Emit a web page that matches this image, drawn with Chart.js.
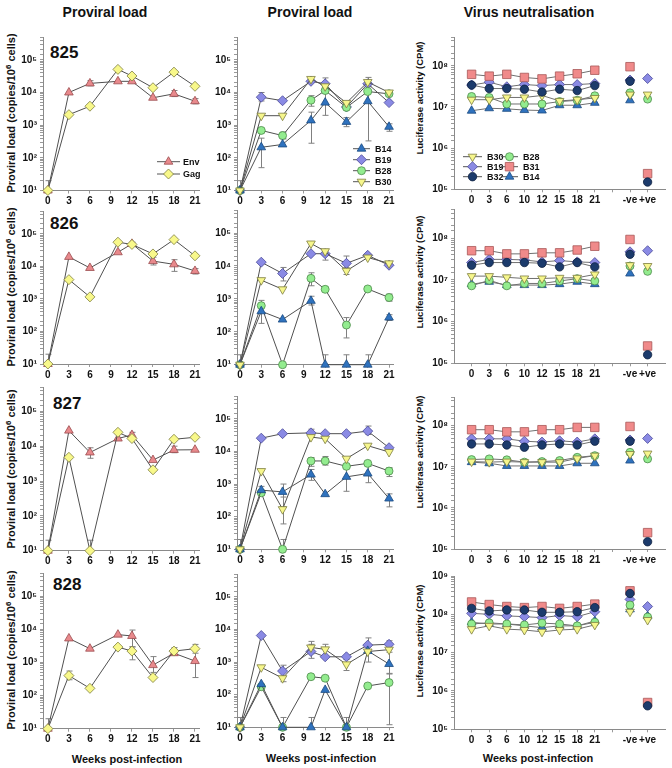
<!DOCTYPE html>
<html>
<head>
<meta charset="utf-8">
<script src="https://cdn.jsdelivr.net/npm/chart.js@4.4.1/dist/chart.umd.min.js"></script>
<style>
  html, body { margin: 0; padding: 0; background: #fff; }
  body { width: 672px; height: 768px; position: relative; overflow: hidden;
         font-family: 'Liberation Sans', Arial, sans-serif; color: #111; }
  canvas { position: absolute; }
  .t { position: absolute; font-weight: bold; white-space: nowrap; line-height: 1; }
  .head { font-size: 14px; transform: translate(-50%, -50%); }
  .num { font-size: 17px; transform: translateY(-50%); }
  .yt1 { font-size: 11px; transform: translate(-50%, -50%) rotate(-90deg); }
  .yt3 { font-size: 9.5px; transform: translate(-50%, -50%) rotate(-90deg); }
  .xt { font-size: 11px; transform: translate(-50%, -50%); }
  sup { font-size: 0.72em; vertical-align: 0.45em; line-height: 0; }
</style>
</head>
<body>
<div class="t head" style="left:105px;top:12px">Proviral load</div>
<div class="t head" style="left:310px;top:12px">Proviral load</div>
<div class="t head" style="left:529px;top:12px">Virus neutralisation</div>

<div class="t num" style="left:50px;top:52px">825</div>
<div class="t num" style="left:50px;top:223px">826</div>
<div class="t num" style="left:53px;top:403px">827</div>
<div class="t num" style="left:53px;top:584px">828</div>

<div class="t yt1" style="left:11px;top:113px">Proviral load (copies/10<sup>6</sup> cells)</div>
<div class="t yt1" style="left:11px;top:287px">Proviral load (copies/10<sup>6</sup> cells)</div>
<div class="t yt1" style="left:11px;top:469px">Proviral load (copies/10<sup>6</sup> cells)</div>
<div class="t yt1" style="left:11px;top:650px">Proviral load (copies/10<sup>6</sup> cells)</div>

<div class="t yt3" style="left:420px;top:98px">Luciferase activity (CPM)</div>
<div class="t yt3" style="left:420px;top:272px">Luciferase activity (CPM)</div>
<div class="t yt3" style="left:420px;top:452px">Luciferase activity (CPM)</div>
<div class="t yt3" style="left:420px;top:641px">Luciferase activity (CPM)</div>

<div class="t xt" style="left:127px;top:759px">Weeks post-infection</div>
<div class="t xt" style="left:321px;top:758px">Weeks post-infection</div>
<div class="t xt" style="left:538px;top:758px">Weeks post-infection</div>

<script>
// ---------- données ----------
const weeks = [0, 3, 6, 10, 12, 15, 18, 21];
const loadTicks = [0, 3, 6, 9, 12, 15, 18, 21];
const neutTicks = ['0', '3', '6', '10', '12', '15', '18', '21', '', '-ve', '+ve'];
const neutX = [0, 1, 2, 3, 4, 5, 6, 7, 9, 10];

// 825
const env825 = [10, 1.0e4, 1.9e4, 2.2e4, 2.2e4, 6900, 9100, 5400];
const gag825 = [10, 2100, 3800, 5.1e4, 3.2e4, 1.4e4, 4.2e4, 1.55e4];
const b14_825 = [10, 210, 257, 1400, 4900, 1260, 5400, 890];
const b19_825 = [10, 7200, 5600, 2.2e4, 1.85e4, 3600, 1.85e4, 4900];
const b28_825 = [10, 690, 480, 5800, 1.15e4, 3500, 1.07e4, 9100];
const b30_825 = [10, 1950, 1950, 2.6e4, 1.55e4, 4800, 2.1e4, 1.0e4];
const n825_B30 = [1.5e7, 1.5e7, 1.7e7, 1.7e7, 1.9e7, 1.4e7, 1.5e7, 1.65e7, 2.0e7, 2.0e7];
const n825_B28 = [1.8e7, 1.7e7, 1.18e7, 1.18e7, 1.18e7, 1.35e7, 1.45e7, 1.87e7, 2.2e7, 1.55e7];
const n825_B19 = [3.4e7, 4.0e7, 3.1e7, 3.5e7, 3.3e7, 3.5e7, 3.5e7, 3.7e7, 4.5e7, 4.9e7];
const n825_B31 = [6.2e7, 5.6e7, 6.2e7, 5.2e7, 4.8e7, 5.6e7, 6.4e7, 7.8e7, 9.5e7, 2.4e5];
const n825_B32 = [3.4e7, 2.8e7, 2.8e7, 2.7e7, 2.3e7, 2.7e7, 2.5e7, 3.3e7, 4.2e7, 1.5e5];
const n825_B14 = [8.1e6, 9.3e6, 9.0e6, 8.4e6, 8.2e6, 1.1e7, 1.1e7, 1.26e7, 1.45e7, null];

// 826
const env826 = [10, 1.95e4, 8900, 2.7e4, 4.9e4, 1.45e4, 1.15e4, 7200];
const gag826 = [10, 3900, 1150, 5.5e4, 4.7e4, 2.4e4, 6.6e4, 2.1e4];
const b14_826 = [10, 420, 235, 870, 10, 10, 10, 270];
const b19_826 = [10, 1.3e4, 5900, 2.35e4, 2.35e4, 1.2e4, 2.1e4, 1.05e4];
const b28_826 = [10, 620, 10, 4200, 1950, 160, 2000, 1100];
const b30_826 = [10, 3700, 1950, 4.8e4, 2.8e4, 7100, 1.8e4, 1.2e4];
const n826_B30 = [1.23e7, 1.23e7, 1.15e7, 1.08e7, 1.08e7, 1.12e7, 1.12e7, 1.35e7, 2.25e7, 2.15e7];
const n826_B28 = [7.2e6, 9.8e6, 7.2e6, 8.2e6, 8.2e6, 9.4e6, 1.07e7, 9.4e6, 2.15e7, 1.6e7];
const n826_B19 = [2.6e7, 3.1e7, 3.1e7, 3.0e7, 2.7e7, 2.9e7, 2.7e7, 2.6e7, 4.7e7, 5.0e7];
const n826_B31 = [5.0e7, 5.0e7, 4.2e7, 4.2e7, 4.45e7, 4.45e7, 5.2e7, 6.4e7, 9.3e7, 2.6e5];
const n826_B32 = [2.25e7, 2.6e7, 2.6e7, 2.6e7, 2.5e7, 2.05e7, 2.6e7, 2.05e7, 4.1e7, 1.6e5];
const n826_B14 = [7.9e6, 9.0e6, 7.5e6, 7.5e6, 7.5e6, 7.9e6, 9.0e6, 7.9e6, 1.42e7, null];

// 827
const env827 = [10, 2.8e4, 6600, 1.66e4, 2.1e4, 4000, 7800, 7900];
const gag827 = [10, 4800, 10, 2.5e4, 1.66e4, 2100, 1.58e4, 1.8e4];
const b14_827 = [10, 650, 575, 1950, 490, 1660, 2100, 360];
const b19_827 = [10, 2.55e4, 3.5e4, 3.7e4, 3.5e4, 3.5e4, 4.2e4, 1.3e4];
const b28_827 = [10, 540, 10, 5100, 5100, 3500, 4300, 2500];
const b30_827 = [10, 2500, 170, 2.75e4, 2.45e4, 6000, 1.5e4, 9600];
const n827_B30 = [1.34e7, 1.3e7, 1.34e7, 1.3e7, 1.3e7, 1.3e7, 1.6e7, 1.87e7, 2.05e7, 2.1e7];
const n827_B28 = [1.5e7, 1.56e7, 1.48e7, 1.3e7, 1.34e7, 1.42e7, 1.7e7, 1.87e7, 2.25e7, 1.56e7];
const n827_B19 = [4.8e7, 4.8e7, 4.8e7, 4.2e7, 4.0e7, 4.3e7, 4.0e7, 4.8e7, 4.5e7, 4.9e7];
const n827_B31 = [8.0e7, 8.0e7, 7.1e7, 7.1e7, 8.0e7, 8.0e7, 9.1e7, 9.1e7, 9.6e7, 2.5e5];
const n827_B32 = [3.6e7, 3.6e7, 3.4e7, 3.0e7, 3.4e7, 3.6e7, 3.4e7, 4.2e7, 4.2e7, 1.5e5];
const n827_B14 = [1.3e7, 1.22e7, 1.05e7, 1.05e7, 1.05e7, 1.05e7, 1.22e7, 1.22e7, 1.42e7, null];

// 828
const env828 = [10, 5300, 2600, 6900, 6300, 830, 1900, 1100];
const gag828 = [10, 400, 165, 2900, 2200, 350, 2200, 2600];
const b14_828 = [10, 210, 10, 10, 140, 10, 2200, 870];
const b19_828 = [10, 6500, 530, 2100, 1450, 1450, 3300, 3500];
const b28_828 = [10, 175, 10, 355, 320, 10, 185, 235];
const b30_828 = [10, 690, 320, 2800, 2450, 850, 2100, 2400];
const n828_B30 = [4.1e7, 5.0e7, 4.1e7, 3.9e7, 3.5e7, 3.9e7, 4.1e7, 5.3e7, 1.17e8, 7.1e7];
const n828_B28 = [5.6e7, 6.0e7, 5.6e7, 5.3e7, 5.9e7, 5.6e7, 5.0e7, 6.2e7, 1.75e8, 8.5e7];
const n828_B19 = [1.06e8, 1.0e8, 9.1e7, 8.7e7, 8.2e7, 9.3e7, 8.7e7, 1.17e8, 2.45e8, 1.6e8];
const n828_B31 = [2.1e8, 1.8e8, 1.6e8, 1.5e8, 1.6e8, 1.43e8, 1.6e8, 1.85e8, 4.1e8, 5.0e5];
const n828_B32 = [1.43e8, 1.22e8, 1.3e8, 1.3e8, 1.13e8, 1.13e8, 1.17e8, 1.5e8, 3.5e8, 4.1e5];
const n828_B14 = [6.2e7, 5.6e7, 5.6e7, 5.0e7, 4.5e7, 5.0e7, 5.0e7, 6.7e7, 1.35e8, 9.0e7];

// barres d'erreur : [indice de la semaine, bas, haut]
const env825Err = [[0, 10, 20], [2, 1.6e4, 2.3e4], [6, 7500, 1.15e4], [7, 4500, 6500]];
const gag825Err = [];
const b14_825Err = [[0, 10, 20], [1, 50, 400], [3, 280, 2500], [4, 2000, 1.2e4], [5, 900, 1700], [6, 330, 1.05e4], [7, 650, 1100]];
const b19_825Err = [[1, 5500, 1.0e4], [4, 1.2e4, 2.8e4]];
const b28_825Err = [[2, 380, 620], [3, 3800, 8000]];
const b30_825Err = [[6, 1.5e4, 2.9e4]];

const env826Err = [[0, 10, 20], [5, 1.1e4, 1.9e4], [6, 7000, 1.6e4], [7, 5800, 8500]];
const gag826Err = [[4, 4.2e4, 5.5e4]];
const b14_826Err = [[0, 10, 20], [1, 180, 900], [3, 650, 1200], [4, 10, 20], [5, 10, 20], [6, 10, 20], [7, 220, 330]];
const b19_826Err = [[2, 3500, 9000], [4, 1.5e4, 3.2e4], [5, 7500, 2.0e4]];
const b28_826Err = [[3, 2500, 6200], [5, 65, 270], [7, 850, 1400]];
const b30_826Err = [[5, 5500, 9000]];

const env827Err = [[0, 10, 20], [2, 4500, 9000], [4, 1.6e4, 2.5e4], [6, 6500, 1.0e4]];
const gag827Err = [[2, 10, 20]];
const b14_827Err = [[0, 10, 20], [1, 450, 850], [2, 200, 1000], [3, 1300, 2800], [5, 600, 4000], [6, 1100, 3500], [7, 200, 500]];
const b19_827Err = [[3, 3.0e4, 4.8e4], [6, 3.3e4, 6.0e4]];
const b28_827Err = [[2, 10, 20], [3, 3500, 6500], [4, 3800, 7000], [7, 1700, 3200]];
const b30_827Err = [[2, 60, 400]];

const env828Err = [[0, 10, 20], [4, 2900, 9500], [5, 500, 1500], [7, 350, 2600]];
const gag828Err = [[1, 300, 550], [4, 1200, 3000], [6, 1700, 2800], [7, 1900, 3500]];
const b14_828Err = [[0, 10, 20], [3, 10, 20], [7, 430, 2000]];
const b19_828Err = [[2, 250, 800], [3, 1300, 3500], [6, 1000, 5500], [7, 2500, 4500]];
const b28_828Err = [[2, 10, 20], [5, 10, 20], [7, 12, 450]];
const b30_828Err = [[3, 1800, 4300], [4, 1500, 3500], [5, 550, 1200]];

// ---------- styles ----------
const STY = {
  Env: { fill: '#E8898C', edge: '#9a4b4e', style: 'triangle', rot: 0, r: 5 },
  Gag: { fill: '#F8F88A', edge: '#7e7e40', style: 'rectRot', rot: 0, r: 5 },
  B14: { fill: '#2F72BE', edge: '#1b4a80', style: 'triangle', rot: 0, r: 5 },
  B19: { fill: '#8A8AE4', edge: '#4a4a98', style: 'rectRot', rot: 0, r: 5 },
  B28: { fill: '#93EC8F', edge: '#4d8a4a', style: 'circle', rot: 0, r: 4 },
  B30: { fill: '#F6F68C', edge: '#7e7e40', style: 'triangle', rot: 180, r: 5 },
  B31: { fill: '#F08A8A', edge: '#a85858', style: 'rect', rot: 0, r: 6 },
  B32: { fill: '#1C3B6C', edge: '#0e2140', style: 'circle', rot: 0, r: 4.2 }
};

const FONT = "'Liberation Sans', Arial, sans-serif";
const xTickFont = { family: FONT, size: 10, weight: 'bold' };
const yTickFont = { family: FONT, size: 10, weight: 'bold' };
const SUP = ['⁰', '¹', '²', '³', '⁴', '⁵', '⁶', '⁷', '⁸', '⁹'];

// colonnes et rangées (en pixels de la page)
const COLS = [
  { left: 0, width: 205, plotLeft: 43, plotRight: 201, xMin: -0.7, xMax: 21.6 },
  { left: 205, width: 195, plotLeft: 237, plotRight: 393.3, xMin: -0.42, xMax: 21.6 },
  { left: 405, width: 267, plotLeft: 454, plotRight: 669.5, xMin: -1, xMax: 11 }
];
const ROWS = [
  [[36.5, 190.5], [36.5, 190.5], [36.8, 189.3]],
  [[210.4, 364], [209.6, 364.7], [208.8, 363.3]],
  [[386, 550.7], [395, 549.3], [396, 549]],
  [[572.8, 728.7], [573.5, 727.3], [575.6, 729.3]]
];

function powLabel(v) {
  const e = Math.log10(v);
  const r = Math.round(e);
  return Math.abs(e - r) < 1e-6 ? '10' + SUP[r] : '';
}

// ---------- plugins ----------
const errorBarPlugin = {
  id: 'errorBars',
  beforeDatasetsDraw(chart) {
    const ctx = chart.ctx;
    const yScale = chart.scales.y;
    ctx.save();
    ctx.strokeStyle = '#808080';
    ctx.lineWidth = 1;
    chart.data.datasets.forEach((ds, di) => {
      if (!ds.errors) return;
      const meta = chart.getDatasetMeta(di);
      ds.errors.forEach(([i, lo, hi]) => {
        const pt = meta.data[i];
        if (!pt) return;
        const x = Math.round(pt.x) + 0.5;
        const y1 = yScale.getPixelForValue(lo);
        const y2 = yScale.getPixelForValue(hi);
        ctx.beginPath();
        ctx.moveTo(x, y1); ctx.lineTo(x, y2);
        ctx.moveTo(x - 3, y1); ctx.lineTo(x + 3, y1);
        ctx.moveTo(x - 3, y2); ctx.lineTo(x + 3, y2);
        ctx.stroke();
      });
    });
    ctx.restore();
  }
};

function drawMark(ctx, s, x, y) {
  ctx.fillStyle = s.fill;
  ctx.strokeStyle = s.edge;
  ctx.lineWidth = 0.8;
  if (Chart.helpers && Chart.helpers.drawPoint) {
    Chart.helpers.drawPoint(ctx, { pointStyle: s.style, rotation: s.rot, radius: s.r, borderWidth: 0.8 }, x, y);
  } else {
    ctx.beginPath();
    ctx.arc(x, y, s.r, 0, Math.PI * 2);
    ctx.fill();
    ctx.stroke();
  }
}

function legendPlugin(items) {
  return {
    id: 'floatLegend',
    afterDraw(chart) {
      const ctx = chart.ctx;
      items.forEach(it => {
        ctx.save();
        ctx.strokeStyle = '#555';
        ctx.lineWidth = 1;
        ctx.beginPath();
        ctx.moveTo(it.x1, it.y); ctx.lineTo(it.x2, it.y);
        ctx.stroke();
        drawMark(ctx, STY[it.key], (it.x1 + it.x2) / 2, it.y);
        ctx.fillStyle = '#111';
        ctx.font = 'bold 9px ' + FONT;
        ctx.textAlign = 'left';
        ctx.textBaseline = 'middle';
        ctx.fillText(it.key, it.tx, it.y + 0.5);
        ctx.restore();
      });
    }
  };
}

// ---------- construction ----------
function makeDataset(key, values, xs, errors, neut) {
  const s = STY[key];
  const ds = {
    label: key,
    data: values.map((v, i) => ({ x: xs[i], y: v })),
    borderColor: neut ? '#707070' : '#505050',
    borderWidth: 1,
    tension: 0,
    clip: false,
    pointStyle: s.style,
    pointRotation: s.rot,
    pointRadius: s.r,
    pointBackgroundColor: s.fill,
    pointBorderColor: s.edge,
    pointBorderWidth: 0.8,
    errors: errors || null
  };
  if (neut) {
    ds.segment = { borderColor: c => (c.p1.parsed.x > 7 ? 'rgba(0,0,0,0)' : undefined) };
  }
  return ds;
}

function makeChart(col, row, datasets, neut, legendItems) {
  const c = COLS[col];
  const [pTop, pBot] = ROWS[row][col];
  const top = Math.floor(pTop) - 8;
  const height = Math.ceil(pBot) + 20 - top;
  const cv = document.createElement('canvas');
  cv.width = c.width;
  cv.height = height;
  cv.style.left = c.left + 'px';
  cv.style.top = top + 'px';
  document.body.appendChild(cv);

  const yW = c.plotLeft - c.left;
  const xH = top + height - pBot;
  const items = (legendItems || []).map(it => ({
    key: it.key, y: it.y - top, x1: it.x1 - c.left, x2: it.x2 - c.left, tx: it.tx - c.left
  }));

  const xTicks = neut ? neutX.concat([8]).sort((a, b) => a - b) : loadTicks;
  new Chart(cv, {
    type: 'line',
    data: { datasets: datasets },
    options: {
      responsive: false,
      animation: false,
      events: [],
      layout: { padding: { top: pTop - top, right: c.left + c.width - c.plotRight, left: 0, bottom: 0 } },
      plugins: { legend: { display: false }, tooltip: { enabled: false } },
      scales: {
        x: {
          type: 'linear',
          min: c.xMin,
          max: c.xMax,
          afterFit: s => { s.height = xH; },
          afterBuildTicks: s => { s.ticks = xTicks.map(v => ({ value: v })); },
          border: { color: '#8a8a8a' },
          grid: { drawOnChartArea: false, tickLength: 3, color: '#9a9a9a' },
          ticks: {
            autoSkip: false, maxRotation: 0, minRotation: 0, padding: 2,
            color: '#111', font: xTickFont,
            callback: v => (neut ? (neutTicks[v] || '') : String(v))
          }
        },
        y: {
          type: 'logarithmic',
          min: neut ? 1e5 : 10,
          max: neut ? (row === 3 ? 1e9 : 5e8) : 5e5,
          afterFit: s => { s.width = yW; },
          border: { color: '#8a8a8a' },
          grid: { drawOnChartArea: false, tickLength: 3, color: '#9a9a9a' },
          ticks: { autoSkip: false, padding: 3, color: '#111', font: yTickFont, callback: v => powLabel(v) }
        }
      }
    },
    plugins: [errorBarPlugin, legendPlugin(items)]
  });
}

const loadSets = [
  { gag: gag825, env: env825, gagE: gag825Err, envE: env825Err,
    b14: b14_825, b19: b19_825, b28: b28_825, b30: b30_825,
    b14E: b14_825Err, b19E: b19_825Err, b28E: b28_825Err, b30E: b30_825Err },
  { gag: gag826, env: env826, gagE: gag826Err, envE: env826Err,
    b14: b14_826, b19: b19_826, b28: b28_826, b30: b30_826,
    b14E: b14_826Err, b19E: b19_826Err, b28E: b28_826Err, b30E: b30_826Err },
  { gag: gag827, env: env827, gagE: gag827Err, envE: env827Err,
    b14: b14_827, b19: b19_827, b28: b28_827, b30: b30_827,
    b14E: b14_827Err, b19E: b19_827Err, b28E: b28_827Err, b30E: b30_827Err },
  { gag: gag828, env: env828, gagE: gag828Err, envE: env828Err,
    b14: b14_828, b19: b19_828, b28: b28_828, b30: b30_828,
    b14E: b14_828Err, b19E: b19_828Err, b28E: b28_828Err, b30E: b30_828Err }
];
const neutSets = [
  { B30: n825_B30, B28: n825_B28, B19: n825_B19, B31: n825_B31, B32: n825_B32, B14: n825_B14 },
  { B30: n826_B30, B28: n826_B28, B19: n826_B19, B31: n826_B31, B32: n826_B32, B14: n826_B14 },
  { B30: n827_B30, B28: n827_B28, B19: n827_B19, B31: n827_B31, B32: n827_B32, B14: n827_B14 },
  { B30: n828_B30, B28: n828_B28, B19: n828_B19, B31: n828_B31, B32: n828_B32, B14: n828_B14 }
];

// légendes (première rangée seulement)
const legend1 = [
  { key: 'Env', y: 161.7, x1: 157, x2: 180, tx: 183 },
  { key: 'Gag', y: 174, x1: 157, x2: 180, tx: 183 }
];
const legend2 = ['B14', 'B19', 'B28', 'B30'].map((k, i) => ({ key: k, y: 148.7 + i * 11, x1: 353, x2: 370, tx: 375 }));
const legend3 = ['B30', 'B28', 'B19', 'B31', 'B32', 'B14'].map((k, i) => {
  const colB = i % 2 === 1;
  return { key: k, y: 156.7 + Math.floor(i / 2) * 10,
           x1: colB ? 501 : 463, x2: colB ? 518 : 482, tx: colB ? 523 : 487 };
});

for (let row = 0; row < 4; row++) {
  const L = loadSets[row];
  makeChart(0, row, [
    makeDataset('Gag', L.gag, weeks, L.gagE),
    makeDataset('Env', L.env, weeks, L.envE)
  ], false, row === 0 ? legend1 : null);

  makeChart(1, row, [
    makeDataset('B30', L.b30, weeks, L.b30E),
    makeDataset('B14', L.b14, weeks, L.b14E),
    makeDataset('B28', L.b28, weeks, L.b28E),
    makeDataset('B19', L.b19, weeks, L.b19E)
  ], false, row === 0 ? legend2 : null);

  const N = neutSets[row];
  makeChart(2, row, ['B32', 'B31', 'B30', 'B28', 'B19', 'B14'].map(k =>
    makeDataset(k, N[k], neutX, null, true)
  ), true, row === 0 ? legend3 : null);
}
</script>
</body>
</html>
